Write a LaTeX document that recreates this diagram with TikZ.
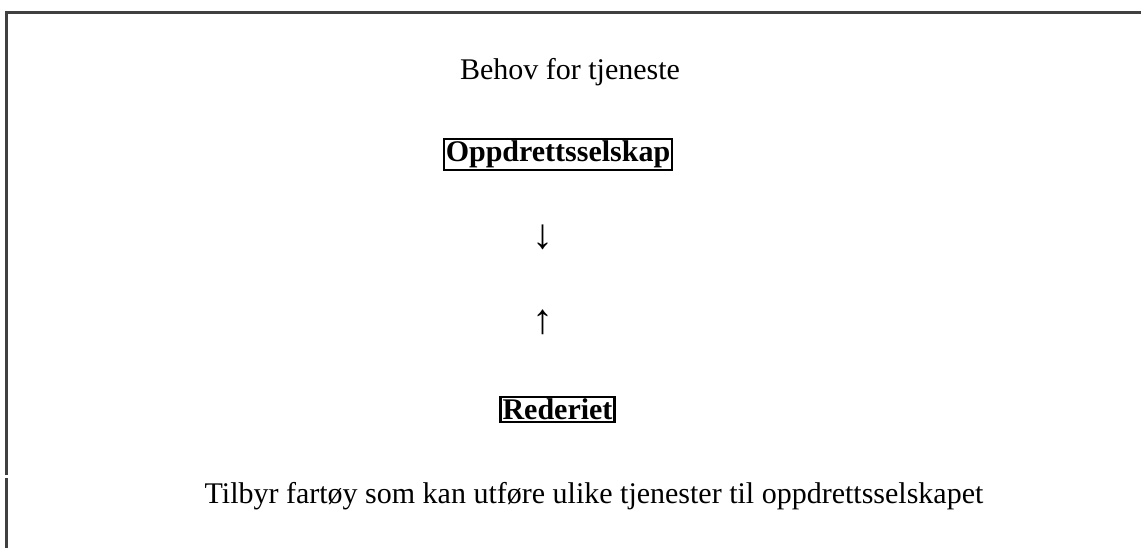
\documentclass[tikz,border=0pt]{standalone}
\usepackage{fontspec}
\setmainfont{Liberation Serif}
\usetikzlibrary{positioning}

\tikzset{
  plain/.style={inner sep=0pt, font=\fontsize{15}{18}\selectfont},
  pointer/.style={inner sep=0pt, font=\fontsize{21}{24}\selectfont},
  boxed/.style={draw, line width=1.1pt, inner sep=1pt, font=\fontsize{15}{18}\selectfont\bfseries},
}

\begin{document}
\begin{tikzpicture}[x=0.5pt,y=-0.5pt]
      \useasboundingbox (0,0) rectangle (1141,548);
      % frame
      \draw[line width=1.5pt, black!75] (6,548) -- (6,478);
      \draw[line width=1.5pt, black!75] (6,475) -- (6,12) -- (1141,12);
      \begin{scope}
        \node[plain, anchor=base] (need) at (570,79) {Behov for tjeneste};
        \node[boxed] (farm) at (558,154.5) {Oppdrettsselskap};
        \node[pointer] (down) at (543,237) {↓};
        \node[pointer] (up) at (543,322) {↑};
        \node[boxed] (owner) at (557.5,409.5) {Rederiet};
        \node[plain, anchor=base] (offer) at (594,503) {Tilbyr fartøy som kan utføre ulike tjenester til oppdrettsselskapet};
      \end{scope}
    \end{tikzpicture}
\end{document}
